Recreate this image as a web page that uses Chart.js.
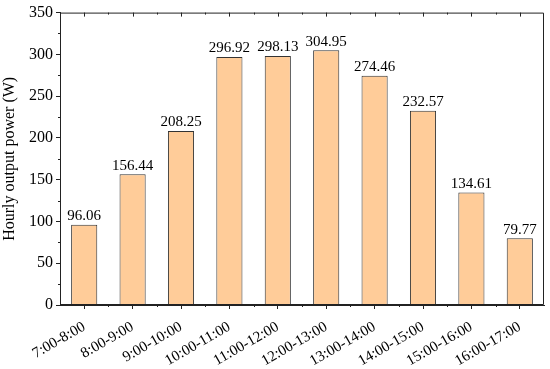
<!DOCTYPE html>
<html>
<head>
<meta charset="utf-8">
<script src="https://cdn.jsdelivr.net/npm/chart.js@4"></script>
<style>
  html, body { margin: 0; padding: 0; background: #fff; }
  #wrap { width: 550px; height: 369px; }
</style>
</head>
<body>
<div id="wrap"><canvas id="grafica"></canvas></div>
<script>
const periodos = ['7:00-8:00', '8:00-9:00', '9:00-10:00', '10:00-11:00', '11:00-12:00',
    '12:00-13:00', '13:00-14:00', '14:00-15:00', '15:00-16:00', '16:00-17:00']
const potencia = [96.06, 156.44, 208.25, 296.92, 298.13, 304.95, 274.46, 232.57, 134.61, 79.77]
const etiquetas = ['96.06', '156.44', '208.25', '296.92', '298.13', '304.95', '274.46', '232.57', '134.61', '79.77']

const fuente = 'Liberation Serif, Times New Roman, serif'

//? marco, ticks menores y etiquetas de valor
const extras = {
    id: 'extras',
    afterDatasetsDraw(chart) {
        const ctx = chart.ctx
        const a = chart.chartArea
        const x = chart.scales.x
        const y = chart.scales.y
        ctx.save()
        ctx.strokeStyle = '#222'
        ctx.lineWidth = 1
        ctx.beginPath()
        ctx.rect(a.left + 0.5, a.top + 0.5, a.right - a.left - 1, a.bottom - a.top - 1)
        ctx.stroke()

        ctx.beginPath()
        // ticks menores eje y (25, 75, ...)
        for (let v = 25; v < 350; v += 50) {
            const py = Math.round(y.getPixelForValue(v)) + 0.5
            ctx.moveTo(a.left, py)
            ctx.lineTo(a.left - 2, py)
        }
        const paso = x.getPixelForValue(1) - x.getPixelForValue(0)
        for (let i = 0; i < periodos.length; i++) {
            const px = Math.round(x.getPixelForValue(i)) + 0.5
            // ticks arriba hacia dentro
            ctx.moveTo(px, a.top)
            ctx.lineTo(px, a.top + 4)
            if (i < periodos.length - 1) {
                const pm = Math.round(x.getPixelForValue(i) + paso / 2) + 0.5
                ctx.moveTo(pm, a.top)
                ctx.lineTo(pm, a.top + 2)
                ctx.moveTo(pm, a.bottom)
                ctx.lineTo(pm, a.bottom + 2)
            }
        }
        ctx.stroke()

        ctx.fillStyle = '#000'
        ctx.font = '15px ' + fuente
        ctx.textAlign = 'center'
        ctx.textBaseline = 'bottom'
        chart.getDatasetMeta(0).data.forEach((bar, i) => {
            ctx.fillText(etiquetas[i], bar.x, bar.y - 1)
        })
        ctx.restore()
    }
}

const grafica = new Chart(document.getElementById('grafica'), {
    type: 'bar',
    data: {
        labels: periodos,
        datasets: [
            {
                label: 'Hourly output power',
                data: potencia,
                backgroundColor: '#FFCC99',
                borderColor: '#333',
                borderWidth: 1,
                barPercentage: 0.54,
                categoryPercentage: 1
            }
        ]
    },
    options: {
        responsive: true,
        maintainAspectRatio: false,
        animation: false,
        layout: { padding: { top: 12, right: 6, left: 0, bottom: 0 } },
        plugins: {
            legend: { display: false },
            tooltip: { enabled: false }
        },
        scales: {
            x: {
                offset: true,
                grid: { drawOnChartArea: false, drawTicks: true, tickLength: 4, color: '#222', offset: false },
                border: { display: true, color: '#222' },
                ticks: {
                    color: '#000',
                    font: { family: fuente, size: 15 },
                    minRotation: 30,
                    maxRotation: 30,
                    padding: 9,
                    autoSkip: false
                },
                afterFit(scale) { scale.height = 64 }
            },
            y: {
                min: 0,
                max: 350,
                grid: { drawOnChartArea: false, drawTicks: true, tickLength: 4, color: '#222' },
                border: { display: true, color: '#222' },
                ticks: {
                    stepSize: 50,
                    color: '#000',
                    font: { family: fuente, size: 16 },
                    padding: 3
                },
                title: {
                    display: true,
                    text: 'Hourly output power (W)',
                    color: '#000',
                    font: { family: fuente, size: 16 },
                    padding: { top: 0, bottom: 0 }
                },
                afterFit(scale) { scale.width = 60 }
            }
        }
    },
    plugins: [extras]
})
</script>
</body>
</html>
